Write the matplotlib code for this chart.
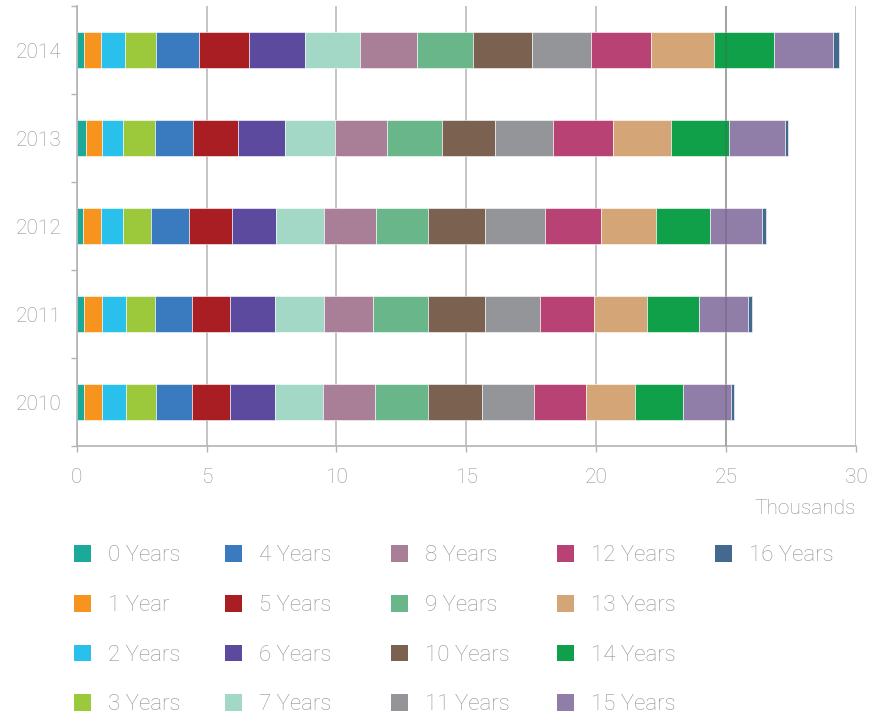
import numpy as np
import matplotlib.pyplot as plt
from matplotlib.patches import Patch

# years (bottom to top) and the share of each tenure group, in thousands
years = ["2010", "2011", "2012", "2013", "2014"]
groups = ["0 Years", "1 Year", "2 Years", "3 Years", "4 Years", "5 Years",
          "6 Years", "7 Years", "8 Years", "9 Years", "10 Years", "11 Years",
          "12 Years", "13 Years", "14 Years", "15 Years", "16 Years"]

vals_2010 = [0.29, 0.69, 0.91, 1.16, 1.38, 1.48, 1.73, 1.84, 1.99, 2.07, 2.05, 2.03, 1.98, 1.90, 1.84, 1.84, 0.11]
vals_2011 = [0.28, 0.70, 0.91, 1.11, 1.43, 1.48, 1.73, 1.88, 1.88, 2.14, 2.18, 2.12, 2.06, 2.07, 2.00, 1.87, 0.14]
vals_2012 = [0.24, 0.69, 0.86, 1.08, 1.44, 1.65, 1.71, 1.85, 2.00, 2.02, 2.18, 2.29, 2.17, 2.13, 2.07, 2.02, 0.15]
vals_2013 = [0.36, 0.62, 0.81, 1.21, 1.48, 1.71, 1.84, 1.90, 2.01, 2.13, 2.03, 2.25, 2.29, 2.25, 2.22, 2.14, 0.15]
vals_2014 = [0.29, 0.64, 0.91, 1.21, 1.66, 1.94, 2.12, 2.13, 2.19, 2.17, 2.27, 2.26, 2.33, 2.42, 2.29, 2.30, 0.23]

colors = ["#1BA99A", "#F7941D", "#29C0EC", "#9BC93B", "#3A7BBF", "#A81E23",
          "#5B4A9E", "#A3D8C7", "#A87F96", "#69B68B", "#7A6150", "#939598",
          "#B94275", "#D4A577", "#0FA049", "#907DA8", "#44698F"]

txt = "#929292"
axc = "#b3b3b3"
plt.rcParams["font.family"] = ["Roboto", "DejaVu Sans"]
plt.rcParams["font.weight"] = "light"

data = np.array([vals_2010, vals_2011, vals_2012, vals_2013, vals_2014])
ypos = np.arange(len(years))

fig = plt.figure(figsize=(8.69, 7.15), dpi=100)
ax = fig.add_axes([0.0883, 0.3762, 0.8967, 0.6154])

left = np.zeros(len(years))
for i, g in enumerate(groups):
    ax.barh(ypos, data[:, i], left=left, height=0.4, color=colors[i],
            edgecolor="#ffffff", linewidth=0.4, zorder=2)
    left += data[:, i]

ax.set_xlim(0, 30)
ax.set_ylim(-0.5, 4.5)
ax.set_xticks(np.arange(0, 31, 5))
ax.set_yticks(ypos)
ax.set_yticklabels(years)
ax.set_yticks(np.arange(-0.5, 4.6, 1), minor=True)
ax.tick_params(axis="y", which="major", length=0, pad=11, labelsize=15, labelcolor=txt)
ax.tick_params(axis="y", which="minor", length=4, color=axc, width=1)
ax.tick_params(axis="x", length=4, color=axc, width=1, pad=12, labelsize=15, labelcolor=txt)

ax.grid(axis="x", color="#c4c4c4", linewidth=1.4, zorder=0)
ax.axvline(25, color="#555555", alpha=0.35, linewidth=1.2, zorder=3)
for s in ["top", "right"]:
    ax.spines[s].set_visible(False)
for s in ["left", "bottom"]:
    ax.spines[s].set_color(axc)
    ax.spines[s].set_linewidth(1.2)

fig.text(0.985, 0.289, "Thousands", ha="right", va="center", fontsize=15, color=txt)

# legend: four entries per column, one legend per column so columns sit evenly
col_x = [0.0852, 0.2589, 0.4499, 0.6410, 0.8228]
for c, x0 in enumerate(col_x):
    idx = range(c * 4, min(c * 4 + 4, len(groups)))
    handles = [Patch(facecolor=colors[i], edgecolor="none") for i in idx]
    leg = fig.legend(handles, [groups[i] for i in idx], loc="upper left",
                     bbox_to_anchor=(x0, 0.2372), frameon=False, fontsize=16,
                     handlelength=0.77, handleheight=0.77, handletextpad=0.75,
                     labelspacing=1.29, borderpad=0, borderaxespad=0)
    for t in leg.get_texts():
        t.set_color(txt)

fig.savefig("out.png", dpi=100)
